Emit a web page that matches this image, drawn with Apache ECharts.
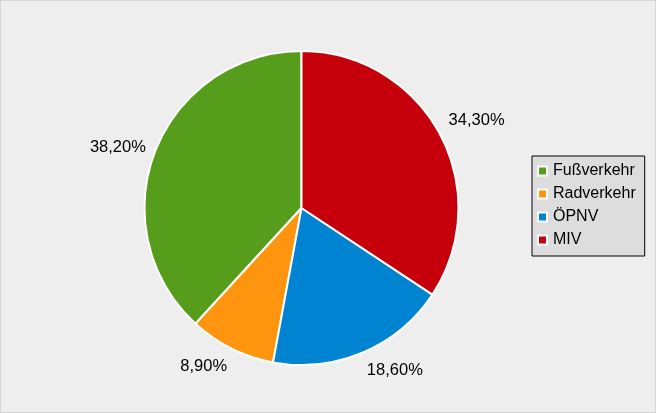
<!DOCTYPE html>
<html>
<head>
<meta charset="utf-8">
<script src="https://cdn.jsdelivr.net/npm/echarts@6/dist/echarts.min.js"></script>
<style>
html,body{margin:0;padding:0;background:#eeeeee;}
#chart{width:656px;height:413px;box-sizing:border-box;border:1px solid #d6d6d6;background:#eeeeee;}
</style>
</head>
<body>
<div id="chart"></div>
<script>
const categories = ['Fußverkehr', 'Radverkehr', 'ÖPNV', 'MIV'];
const shares = [38.2, 8.9, 18.6, 34.3];
const colors = ['#579d1c', '#ff950e', '#0084d1', '#c5000b'];

const fmt = v => v.toFixed(2).replace('.', ',') + '%';
const pieData = categories.map((n, i) => ({ name: n, value: shares[i] }));
const total = shares.reduce((a, b) => a + b, 0);

// vertical direction of each slice's middle (counter-clockwise from 12 o'clock)
function midSinY(i) {
  let before = 0;
  for (let k = 0; k < i; k++) before += shares[k];
  const frac = (before + shares[i] / 2) / total;
  const theta = (90 + frac * 360) * Math.PI / 180;
  return -Math.sin(theta); // screen y direction
}

const chart = echarts.init(document.getElementById('chart'), null, { renderer: 'canvas' });
chart.setOption({
  backgroundColor: '#eeeeee',
  animation: false,
  color: colors,
  legend: {
    orient: 'vertical',
    left: 531,
    top: 155,
    data: categories,
    backgroundColor: '#dddddd',
    borderColor: '#000000',
    borderWidth: 1,
    borderRadius: 0,
    padding: [7, 9, 8, 5],
    itemWidth: 9,
    itemHeight: 9,
    itemGap: 7,
    icon: 'rect',
    selectedMode: false,
    textStyle: { fontFamily: 'Liberation Sans', fontSize: 16, color: '#000000', padding: [0, 0, 0, 1] }
  },
  series: [
    {
      type: 'pie',
      center: [300.5, 207],
      radius: 157,
      startAngle: 90,
      clockwise: false,
      silent: true,
      avoidLabelOverlap: false,
      itemStyle: { borderColor: '#ffffff', borderWidth: 2 },
      label: {
        show: true,
        position: 'outside',
        alignTo: 'none',
        distanceToLabelLine: 0,
        fontFamily: 'Liberation Sans',
        fontSize: 16.5,
        color: '#000000',
        formatter: p => fmt(p.value)
      },
      labelLine: { show: false, length: 10, length2: 0 },
      labelLayout: function (params) {
        const sy = midSinY(params.dataIndex);
        const h = params.labelRect.height;
        if (Math.abs(sy) > 0.42) {
          return { dy: (sy > 0 ? 1 : -1) * h / 2 };
        }
        return {};
      },
      data: pieData
    }
  ]
});
</script>
</body>
</html>
